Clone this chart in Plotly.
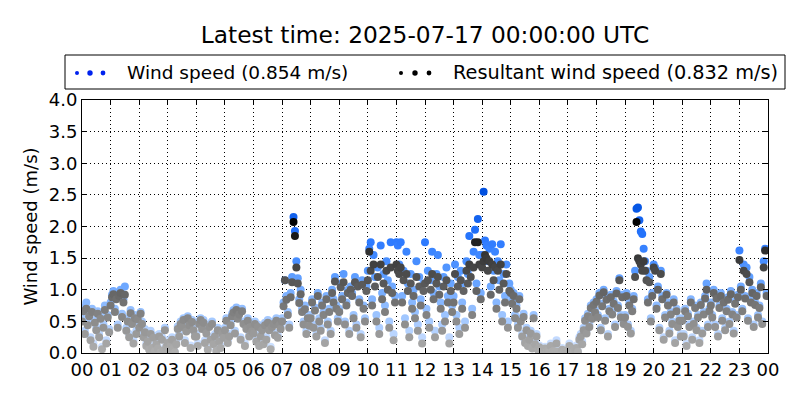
import plotly.graph_objects as go

# ---- data (3-minute samples, one row of 20 per hour) ----
hours = ["00", "01", "02", "03", "04", "05", "06", "07", "08", "09", "10", "11",
         "12", "13", "14", "15", "16", "17", "18", "19", "20", "21", "22", "23", "00"]

wind_speed = [
    0.55, 0.72, 0.35, 0.80, 0.48, 0.62, 0.25, 0.70, 0.15, 0.52, 0.40, 0.66, 0.30, 0.58, 0.10, 0.45, 0.75, 0.20, 0.60, 0.38,
    0.80, 0.92, 0.98, 0.70, 0.88, 0.45, 0.95, 1.00, 0.62, 0.85, 1.05, 0.40, 0.55, 0.30, 0.68, 0.50, 0.20, 0.60, 0.35, 0.58,
    0.45, 0.65, 0.50, 0.30, 0.38, 0.15, 0.22, 0.08, 0.35, 0.12, 0.28, 0.05, 0.18, 0.10, 0.30, 0.02, 0.25, 0.06, 0.40, 0.14,
    0.20, 0.05, 0.15, 0.25, 0.10, 0.02, 0.18, 0.42, 0.30, 0.50, 0.45, 0.55, 0.20, 0.38, 0.58, 0.48, 0.12, 0.52, 0.40, 0.30,
    0.30, 0.15, 0.50, 0.55, 0.42, 0.52, 0.20, 0.35, 0.08, 0.45, 0.25, 0.50, 0.18, 0.30, 0.05, 0.40, 0.22, 0.12, 0.35, 0.28,
    0.40, 0.55, 0.20, 0.30, 0.48, 0.62, 0.68, 0.35, 0.72, 0.58, 0.65, 0.25, 0.70, 0.50, 0.15, 0.42, 0.55, 0.30, 0.45, 0.38,
    0.35, 0.50, 0.22, 0.45, 0.15, 0.30, 0.40, 0.18, 0.48, 0.25, 0.52, 0.40, 0.10, 0.45, 0.50, 0.32, 0.55, 0.28, 0.48, 0.42,
    0.55, 0.80, 1.15, 0.90, 0.65, 0.45, 0.95, 1.20, 2.15, 1.93, 1.45, 1.18, 0.85, 1.00, 0.70, 0.50, 0.75, 0.35, 0.60, 0.48,
    0.60, 0.85, 0.45, 0.72, 0.30, 0.95, 0.55, 0.40, 0.80, 0.65, 0.20, 0.90, 0.50, 0.70, 0.35, 1.00, 0.85, 1.20, 0.75, 0.55,
    0.70, 1.10, 0.90, 1.25, 0.50, 0.80, 1.00, 0.35, 1.05, 0.95, 0.60, 1.20, 0.45, 1.10, 0.85, 0.30, 1.15, 0.75, 0.55, 1.05,
    1.30, 1.65, 1.75, 0.85, 1.55, 1.20, 0.60, 1.35, 0.40, 1.70, 0.95, 1.25, 0.75, 1.45, 1.15, 0.50, 1.75, 1.05, 0.30, 0.90,
    1.75, 1.70, 1.40, 1.75, 0.90, 1.30, 0.55, 1.60, 1.10, 0.35, 1.25, 0.80, 1.00, 0.65, 1.45, 0.45, 1.20, 0.85, 0.25, 1.10,
    1.75, 0.70, 1.30, 0.50, 1.15, 1.60, 0.95, 0.35, 1.25, 1.55, 1.05, 0.80, 0.45, 1.20, 0.60, 1.35, 0.90, 0.25, 1.10, 0.75,
    0.90, 1.40, 0.60, 1.20, 0.40, 1.30, 0.80, 1.10, 0.50, 1.45, 1.25, 1.85, 1.35, 0.70, 1.60, 1.95, 1.10, 2.12, 1.55, 0.95,
    1.55, 2.55, 1.78, 1.70, 1.45, 1.65, 1.05, 1.72, 1.30, 1.60, 0.80, 1.45, 1.15, 1.72, 0.60, 1.25, 0.90, 1.40, 0.50, 1.10,
    1.00, 0.85, 0.95, 0.60, 0.75, 0.45, 0.90, 0.55, 0.30, 0.62, 0.20, 0.40, 0.15, 0.25, 0.35, 0.10, 0.60, 0.18, 0.30, 0.08,
    0.12, 0.05, 0.08, 0.03, 0.10, 0.02, 0.06, 0.04, 0.15, 0.03, 0.05, 0.02, 0.20, 0.03, 0.04, 0.02, 0.08, 0.03, 0.02, 0.05,
    0.05, 0.15, 0.02, 0.10, 0.04, 0.08, 0.12, 0.03, 0.25, 0.30, 0.18, 0.40, 0.55, 0.35, 0.62, 0.45, 0.75, 0.58, 0.80, 0.68,
    0.85, 0.60, 0.95, 0.40, 0.78, 1.00, 0.55, 0.88, 0.30, 0.70, 0.92, 0.65, 0.82, 0.45, 0.98, 0.75, 1.18, 0.60, 0.92, 0.50,
    0.60, 0.95, 0.45, 0.80, 0.35, 0.70, 0.90, 1.30, 2.28, 2.30, 2.10, 1.92, 1.88, 1.65, 1.45, 1.30, 0.85, 1.20, 0.55, 0.95,
    1.40, 1.35, 0.75, 1.05, 0.40, 1.30, 0.90, 0.25, 0.60, 0.95, 0.80, 0.35, 0.65, 0.50, 0.85, 0.20, 0.70, 0.45, 0.55, 0.30,
    0.55, 0.30, 0.70, 0.15, 0.62, 0.45, 0.85, 0.25, 0.50, 0.75, 0.40, 0.60, 0.20, 0.80, 0.35, 0.65, 0.90, 1.10, 0.45, 0.70,
    0.80, 0.60, 1.00, 0.45, 0.90, 0.30, 0.75, 0.95, 0.55, 0.85, 0.40, 0.70, 0.88, 0.50, 0.98, 0.65, 0.35, 0.82, 0.60, 0.92,
    1.62, 1.05, 0.70, 1.40, 0.90, 1.35, 0.55, 1.20, 0.85, 1.00, 0.45, 0.80, 0.95, 0.60, 0.75, 1.10, 0.50, 1.45, 1.65, 0.95,
]

resultant_speed = [
    0.50, 0.66, 0.30, 0.70, 0.44, 0.58, 0.20, 0.65, 0.10, 0.48, 0.36, 0.62, 0.25, 0.54, 0.06, 0.40, 0.68, 0.15, 0.56, 0.33,
    0.75, 0.88, 0.93, 0.65, 0.85, 0.40, 0.90, 0.95, 0.57, 0.80, 0.92, 0.35, 0.50, 0.25, 0.63, 0.46, 0.15, 0.55, 0.30, 0.53,
    0.40, 0.62, 0.46, 0.25, 0.33, 0.11, 0.18, 0.05, 0.30, 0.08, 0.24, 0.03, 0.14, 0.07, 0.26, 0.01, 0.21, 0.04, 0.36, 0.10,
    0.16, 0.03, 0.11, 0.21, 0.07, 0.01, 0.14, 0.38, 0.26, 0.46, 0.41, 0.52, 0.16, 0.34, 0.55, 0.44, 0.08, 0.49, 0.36, 0.26,
    0.26, 0.11, 0.46, 0.52, 0.38, 0.48, 0.16, 0.31, 0.05, 0.41, 0.21, 0.46, 0.14, 0.26, 0.03, 0.36, 0.18, 0.08, 0.31, 0.24,
    0.36, 0.51, 0.16, 0.26, 0.44, 0.58, 0.64, 0.31, 0.68, 0.54, 0.61, 0.21, 0.66, 0.46, 0.11, 0.38, 0.51, 0.26, 0.41, 0.34,
    0.31, 0.46, 0.18, 0.41, 0.11, 0.26, 0.36, 0.14, 0.44, 0.21, 0.48, 0.36, 0.06, 0.41, 0.46, 0.28, 0.51, 0.24, 0.44, 0.38,
    0.50, 0.74, 1.15, 0.84, 0.60, 0.40, 0.88, 1.12, 2.07, 1.85, 1.35, 1.10, 0.79, 0.93, 0.65, 0.45, 0.69, 0.30, 0.55, 0.43,
    0.55, 0.80, 0.40, 0.67, 0.26, 0.90, 0.50, 0.35, 0.75, 0.60, 0.16, 0.85, 0.45, 0.65, 0.30, 0.95, 0.80, 1.13, 0.70, 0.50,
    0.65, 1.04, 0.85, 1.12, 0.45, 0.75, 0.95, 0.30, 1.00, 0.90, 0.55, 1.12, 0.40, 1.05, 0.80, 0.25, 1.08, 0.70, 0.50, 0.98,
    1.15, 1.60, 1.30, 0.75, 1.40, 1.05, 0.50, 1.20, 0.30, 1.40, 0.85, 1.10, 0.65, 1.30, 1.00, 0.40, 1.35, 0.95, 0.20, 0.80,
    1.40, 1.30, 1.25, 1.35, 0.80, 1.15, 0.45, 1.25, 0.98, 0.25, 1.10, 0.70, 0.90, 0.55, 1.20, 0.35, 1.05, 0.75, 0.15, 0.98,
    1.10, 0.60, 1.15, 0.40, 1.00, 1.25, 0.85, 0.25, 1.10, 1.20, 0.92, 0.70, 0.35, 1.05, 0.50, 1.15, 0.80, 0.15, 0.98, 0.65,
    0.80, 1.25, 0.50, 1.05, 0.30, 1.15, 0.70, 0.98, 0.40, 1.30, 1.10, 1.40, 1.20, 0.60, 1.35, 1.75, 0.98, 1.75, 1.40, 0.85,
    1.35, 1.45, 1.55, 1.50, 1.30, 1.45, 0.92, 1.40, 1.15, 1.35, 0.70, 1.30, 1.00, 1.40, 0.50, 1.10, 0.80, 1.25, 0.40, 0.98,
    0.95, 0.78, 0.90, 0.55, 0.70, 0.40, 0.85, 0.50, 0.26, 0.57, 0.16, 0.36, 0.11, 0.21, 0.31, 0.07, 0.55, 0.14, 0.26, 0.05,
    0.09, 0.03, 0.05, 0.02, 0.07, 0.01, 0.04, 0.02, 0.11, 0.02, 0.03, 0.01, 0.15, 0.02, 0.02, 0.01, 0.05, 0.02, 0.01, 0.03,
    0.03, 0.11, 0.01, 0.07, 0.02, 0.05, 0.08, 0.02, 0.21, 0.26, 0.14, 0.36, 0.51, 0.31, 0.58, 0.41, 0.71, 0.54, 0.76, 0.64,
    0.81, 0.56, 0.91, 0.36, 0.74, 0.96, 0.51, 0.84, 0.26, 0.66, 0.88, 0.61, 0.78, 0.41, 0.94, 0.71, 1.15, 0.56, 0.88, 0.46,
    0.56, 0.90, 0.41, 0.75, 0.31, 0.66, 0.85, 1.20, 2.07, 1.50, 1.45, 1.40, 1.30, 1.45, 1.30, 1.15, 0.80, 1.12, 0.50, 0.90,
    1.35, 1.30, 0.70, 1.00, 0.36, 1.25, 0.85, 0.21, 0.56, 0.92, 0.75, 0.31, 0.61, 0.46, 0.80, 0.16, 0.66, 0.41, 0.51, 0.26,
    0.51, 0.26, 0.66, 0.11, 0.58, 0.41, 0.80, 0.21, 0.46, 0.71, 0.36, 0.56, 0.16, 0.76, 0.31, 0.61, 0.86, 1.00, 0.41, 0.66,
    0.75, 0.56, 0.95, 0.41, 0.86, 0.26, 0.71, 0.90, 0.51, 0.80, 0.36, 0.66, 0.84, 0.46, 0.93, 0.61, 0.31, 0.78, 0.56, 0.88,
    1.47, 1.00, 0.66, 1.30, 0.86, 1.25, 0.51, 1.12, 0.80, 0.95, 0.41, 0.76, 0.90, 0.56, 0.71, 1.04, 0.46, 1.35, 1.62, 0.90,
]

title_text = "Latest time: 2025-07-17 00:00:00 UTC"
ws_label = "Wind speed (0.854 m/s)"
rws_label = "Resultant wind speed (0.832 m/s)"
y_title = "Wind speed (m/s)"

# time axis in hours (3-minute steps)
times = [i / 20 for i in range(len(wind_speed))]

FONT = "DejaVu Sans"

blue_scale = [[0.0, "#d6e5ff"], [0.25, "#9cc4ff"], [0.5, "#5e9eff"],
              [0.75, "#2a78ff"], [1.0, "#0050e0"]]
grey_scale = [[0.0, "#b0b0b0"], [0.25, "#8a8a8a"], [0.5, "#5c5c5c"],
              [0.75, "#333333"], [1.0, "#000000"]]

fig = go.Figure()
fig.add_trace(go.Scatter(
    x=times, y=wind_speed, mode="markers", showlegend=False, hoverinfo="skip",
    marker=dict(size=8, color=wind_speed, colorscale=blue_scale,
                cmin=0, cmax=2.4, line=dict(width=0)),
))
fig.add_trace(go.Scatter(
    x=times, y=resultant_speed, mode="markers", showlegend=False, hoverinfo="skip",
    marker=dict(size=8, color=resultant_speed, colorscale=grey_scale,
                cmin=0, cmax=2.1, line=dict(width=0)),
))

# plot area geometry (pixels)
L, R, T, B = 82, 768, 100, 353
W, H = R - L, B - T


def px(x):
    return (x - L) / W


def py(y):
    return (B - y) / H


shapes = [dict(type="rect", xref="paper", yref="paper",
               x0=px(65), x1=px(785), y0=py(89), y1=py(55),
               line=dict(color="black", width=1), fillcolor="white", layer="above")]


def dot(cx, cy, r, color):
    return dict(type="circle", xref="paper", yref="paper",
                x0=px(cx - r), x1=px(cx + r), y0=py(cy + r), y1=py(cy - r),
                line=dict(width=0), fillcolor=color, layer="above")


for cx, r in [(77, 2.0), (90, 2.7), (103, 2.4)]:
    shapes.append(dot(cx, 73, r, "#0022ee"))
for cx, r in [(401, 2.0), (415, 2.7), (429, 2.4)]:
    shapes.append(dot(cx, 73, r, "#000000"))

annotations = [
    dict(text=ws_label, xref="paper", yref="paper", x=px(125), y=py(72),
         xanchor="left", yanchor="middle", showarrow=False,
         font=dict(family=FONT, size=18.5, color="black")),
    dict(text=rws_label, xref="paper", yref="paper", x=px(451), y=py(72),
         xanchor="left", yanchor="middle", showarrow=False,
         font=dict(family=FONT, size=19.3, color="black")),
]

GRID_DASH = "1px,3px"

fig.update_layout(
    width=800, height=400,
    margin=dict(l=L, r=800 - R, t=T, b=400 - B, autoexpand=False),
    paper_bgcolor="white", plot_bgcolor="white",
    font=dict(family=FONT, size=18, color="black"),
    title=dict(text=title_text, x=px(425), xref="paper", xanchor="center",
               y=1 - 35 / 400, yanchor="middle", font=dict(family=FONT, size=23.3)),
    shapes=shapes, annotations=annotations,
    xaxis=dict(range=[0, 24], tickmode="array", tickvals=list(range(25)),
               ticktext=hours, ticks="inside", ticklen=5, tickcolor="black",
               showline=True, linecolor="black", linewidth=1, mirror="allticks",
               showgrid=True, gridcolor="black", griddash=GRID_DASH, gridwidth=1,
               zeroline=False, tickfont=dict(size=18), automargin=False),
    yaxis=dict(range=[0, 4], tickmode="array",
               tickvals=[0, 0.5, 1, 1.5, 2, 2.5, 3, 3.5, 4],
               ticktext=["0.0", "0.5", "1.0", "1.5", "2.0", "2.5", "3.0", "3.5", "4.0"],
               ticks="inside", ticklen=5, tickcolor="black",
               showline=True, linecolor="black", linewidth=1, mirror="allticks",
               showgrid=True, gridcolor="black", griddash=GRID_DASH, gridwidth=1,
               zeroline=False, tickfont=dict(size=18), automargin=False,
               title=dict(text=y_title, font=dict(size=18), standoff=6)),
)

fig.write_html("out.html", config={"displayModeBar": False},
               post_script="document.body.style.margin='0px';")
